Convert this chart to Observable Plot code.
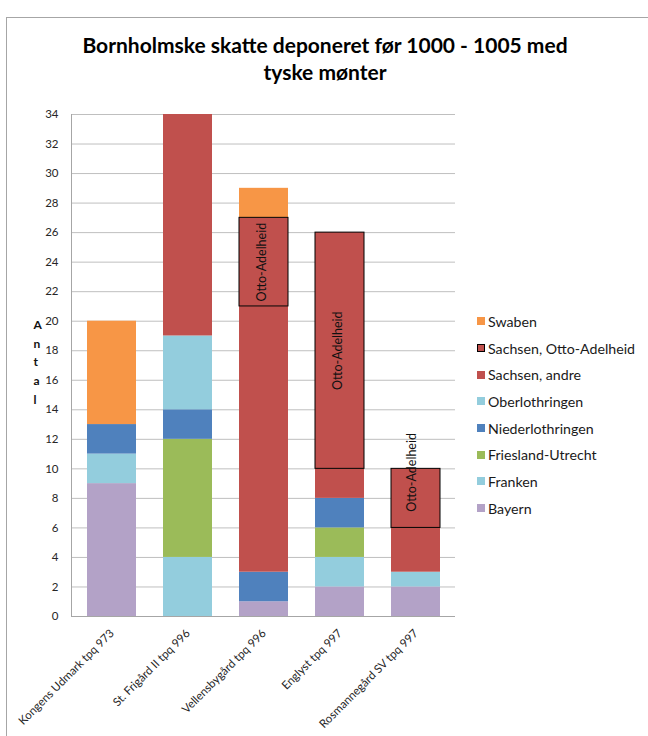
<!DOCTYPE html>
<html>
<head>
<meta charset="utf-8">
<script src="https://cdn.jsdelivr.net/npm/d3@7"></script>
<script src="https://cdn.jsdelivr.net/npm/@observablehq/plot@0.6"></script>
<style>
  body { margin: 0; background: #fff; font-family: Lato, "Open Sans", sans-serif; }
  #wrap { position: relative; width: 648px; height: 736px; overflow: hidden; }
  #frame { position: absolute; left: 6px; top: 17px; width: 700px; height: 800px; border: 1px solid #a6a6a6; box-sizing: border-box; }
  #title { position: absolute; left: 0; top: 31px; width: 648px; text-align: center; font-weight: bold; font-size: 21px; line-height: 27px; color: #000; padding-left: 2px; box-sizing: border-box; }
  #chart { position: absolute; left: 0; top: 96px; }
  #legend { position: absolute; left: 477px; top: 308px; font-size: 14.2px; color: #1a1a1a; }
  .item { height: 26.7px; display: flex; align-items: center; white-space: nowrap; }
  .sw { width: 8px; height: 8px; margin-right: 3px; box-sizing: border-box; }
</style>
</head>
<body>
<div id="wrap">
  <div id="frame"></div>
  <div id="title">Bornholmske skatte deponeret før 1000 - 1005 med<br>tyske mønter</div>
  <div id="chart"></div>
  <div id="legend"></div>
</div>
<script>
const sites = ["Kongens Udmark tpq 973", "St. Frigård II tpq 996", "Vellensbygård tpq 996", "Englyst tpq 997", "Rosmannegård SV tpq 997"];
// stack order, bottom to top
const series = ["Bayern", "Franken", "Friesland-Utrecht", "Niederlothringen", "Oberlothringen", "Sachsen, andre", "Sachsen, Otto-Adelheid", "Swaben"];
const colors = ["#b3a2c7", "#93cddd", "#9bbb59", "#4f81bd", "#93cddd", "#c0504d", "#c0504d", "#f79646"];
const bayern          = [9, 0, 1, 2, 2];
const franken         = [2, 4, 0, 2, 1];
const frieslandUtrecht= [0, 8, 0, 2, 0];
const niederlothringen= [2, 2, 2, 2, 0];
const oberlothringen  = [0, 5, 0, 0, 0];
const sachsenAndre    = [0, 15, 18, 2, 3];
const sachsenOtto     = [0, 0, 6, 16, 4];
const swaben          = [7, 0, 2, 0, 0];
const yTicks = d3.range(0, 35, 2);
const yLabel = "Antal";
const ottoLabel = "Otto-Adelheid";

const valuesBySeries = [bayern, franken, frieslandUtrecht, niederlothringen, oberlothringen, sachsenAndre, sachsenOtto, swaben];
const data = [];
series.forEach((s, i) => sites.forEach((site, j) => {
  if (valuesBySeries[i][j] > 0) data.push({site, series: s, value: valuesBySeries[i][j]});
}));
const OA = "Sachsen, Otto-Adelheid";
const stackOpts = {x: "site", y: "value", z: "series", order: series};

const chart = Plot.plot({
  width: 648,
  height: 640,
  marginLeft: 71,
  marginRight: 193,
  marginTop: 18,
  marginBottom: 120,
  style: {fontFamily: "Lato, 'Open Sans', sans-serif", color: "#262626", background: "transparent"},
  x: {domain: sites, paddingInner: 0.36, paddingOuter: 0.18, label: null},
  y: {domain: [0, 34], label: null},
  color: {domain: series, range: colors},
  marks: [
    Plot.gridY(yTicks, {stroke: "#bfbfbf", strokeOpacity: 1}),
    Plot.barY(data, Plot.stackY({...stackOpts, fill: "series"})),
    Plot.barY(data, Plot.filter(d => d.series === OA, Plot.stackY({...stackOpts, fill: "none", stroke: "#000", strokeWidth: 1}))),
    Plot.text(data, Plot.filter(d => d.series === OA && d.value >= 6, Plot.stackY({...stackOpts, text: () => ottoLabel, rotate: -90, fontSize: 12.5, fill: "#111", dx: -2}))),
    Plot.text(data, Plot.filter(d => d.series === OA && d.value < 6, Plot.stackY({...stackOpts, text: () => ottoLabel, rotate: -90, fontSize: 12.5, fill: "#111", dx: -4, dy: -26}))),
    Plot.ruleY([0], {stroke: "#a6a6a6"}),
    Plot.frame({anchor: "left", stroke: "#a6a6a6"}),
    Plot.axisY(yTicks, {tickSize: 0, tickPadding: 13, fontSize: 11.5, label: null}),
    Plot.axisX({tickSize: 0, tickPadding: 15, tickRotate: -45, fontSize: 11.5, label: null}),
    Plot.text([yLabel.split("").join("\n")], {frameAnchor: "left", dx: -38, dy: -5, fontWeight: "bold", fontSize: 12, lineHeight: 1.55, fill: "#111"})
  ]
});
document.getElementById("chart").appendChild(chart);

const legend = document.getElementById("legend");
const legendOrder = [...series].reverse();
legendOrder.forEach(s => {
  const i = series.indexOf(s);
  const item = document.createElement("div");
  item.className = "item";
  const sw = document.createElement("span");
  sw.className = "sw";
  sw.style.background = colors[i];
  if (s === OA) sw.style.border = "1px solid #000";
  const t = document.createElement("span");
  t.textContent = s;
  item.appendChild(sw); item.appendChild(t);
  legend.appendChild(item);
});
</script>
</body>
</html>
